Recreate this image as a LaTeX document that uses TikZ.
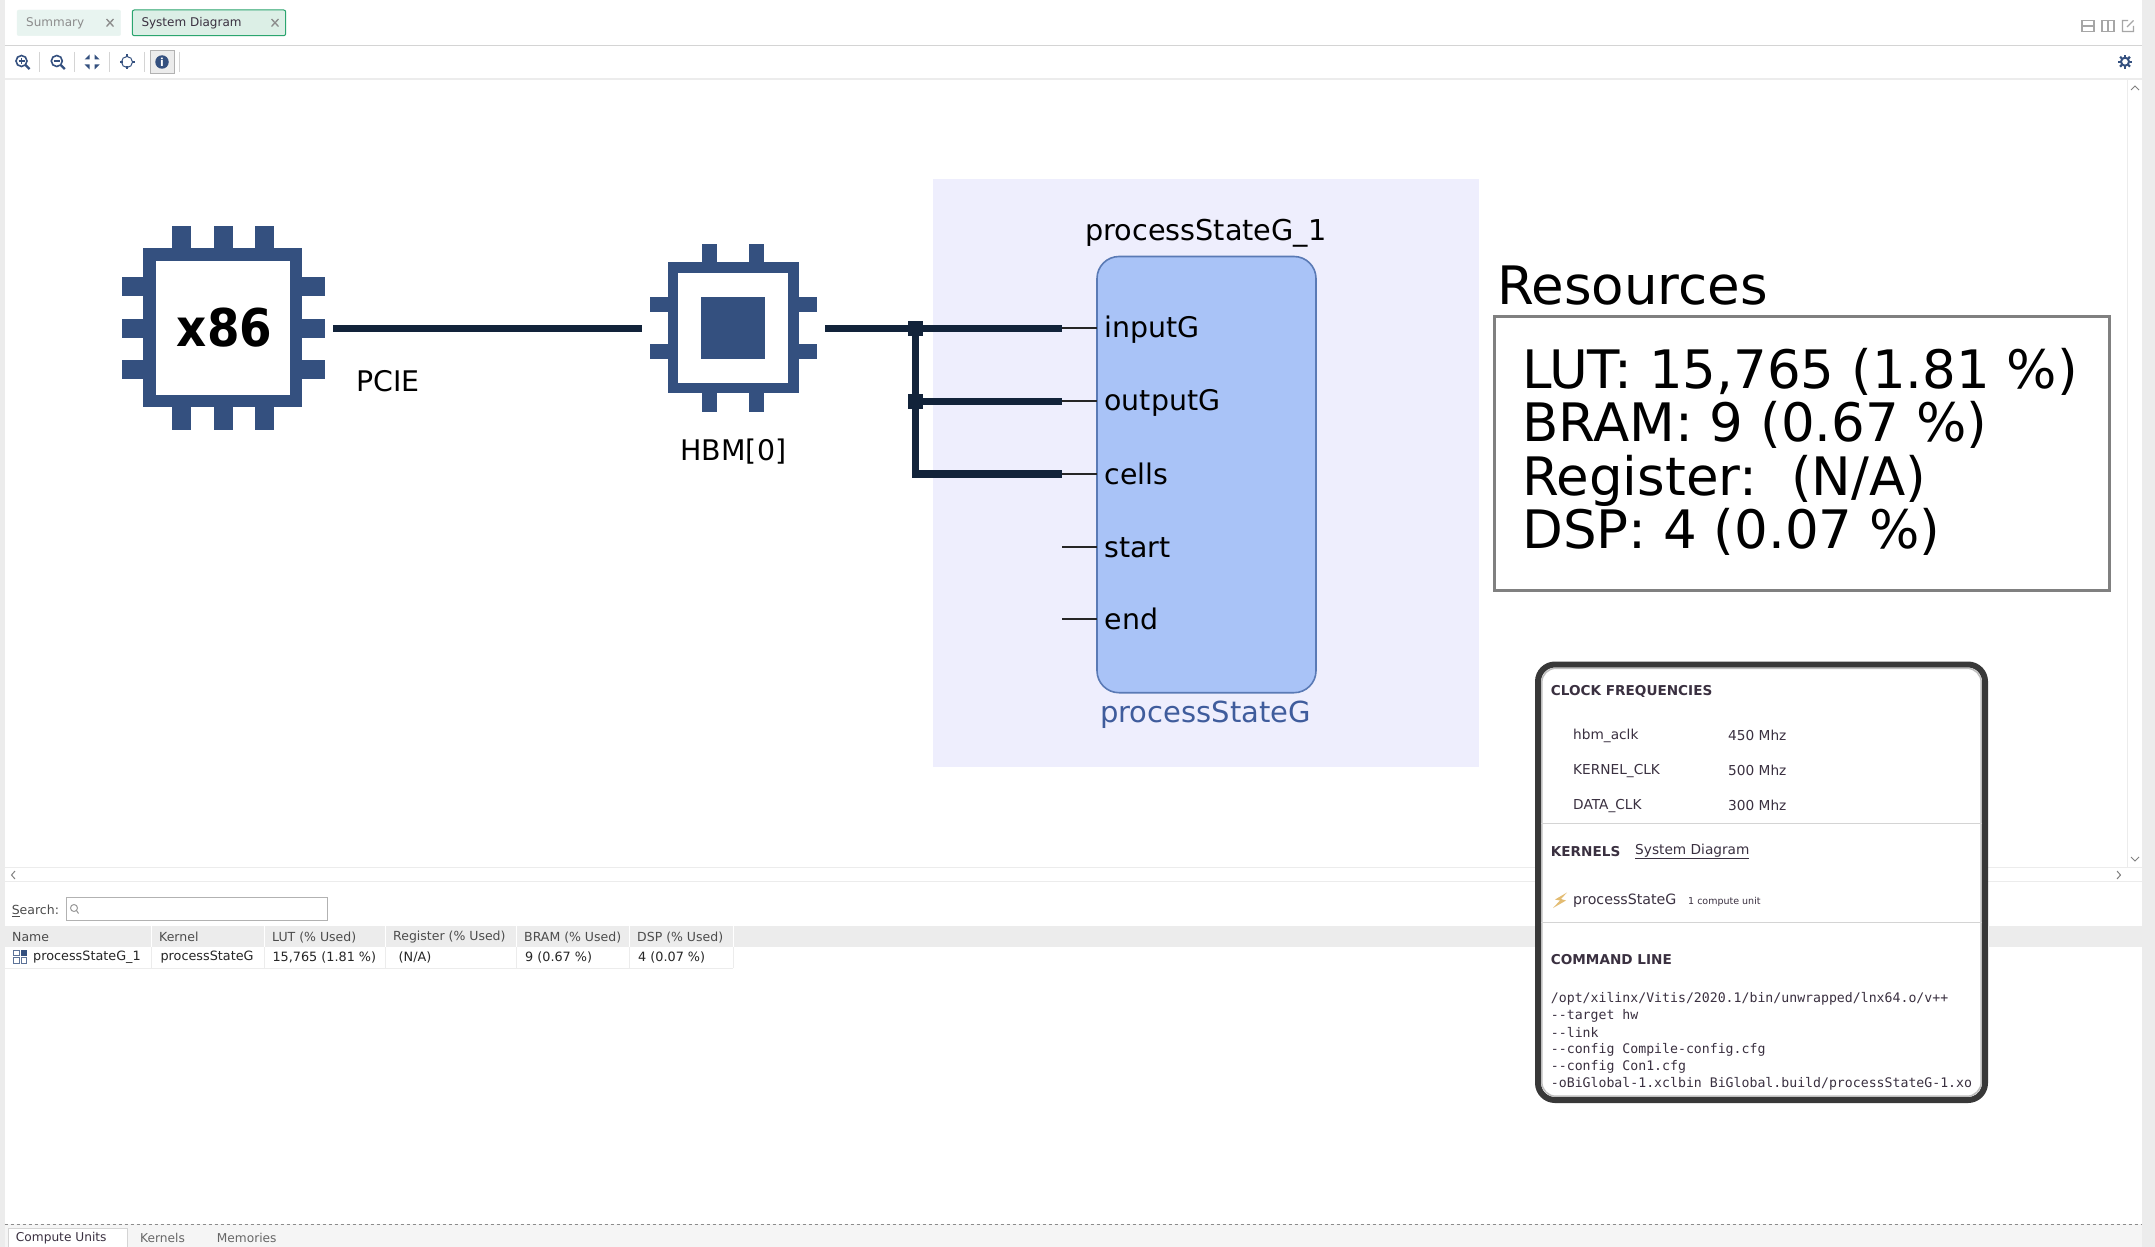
\documentclass[tikz,border=0pt]{standalone}
\usepackage{fontspec}
\setmainfont{DejaVu Sans}
\setmonofont{DejaVu Sans Mono}
\newfontfamily\condfont{DejaVu Sans Condensed}
\usetikzlibrary{positioning,calc}
\definecolor{chipblue}{HTML}{34507F}
\definecolor{wirenavy}{HTML}{12233A}
\definecolor{kernelfill}{HTML}{A9C3F7}
\definecolor{kerneledge}{HTML}{5A7AB5}
\definecolor{kernelname}{HTML}{3F5C9C}
\definecolor{lilac}{HTML}{EEEEFD}
\definecolor{uiline}{HTML}{D4D4D4}
\definecolor{uiband}{HTML}{ECECEC}
\definecolor{uitext}{HTML}{3A3040}
\definecolor{tabgreen}{HTML}{DCEFE6}
\definecolor{tabpale}{HTML}{E8F4F0}
\definecolor{tabedge}{HTML}{2BA56F}
\definecolor{boltgold}{HTML}{E3BC72}
\newcommand{\fsz}[1]{\fontsize{#1}{#1}\selectfont}
\begin{document}
\begin{tikzpicture}[x=1pt,y=-1pt,
  txt/.style={inner sep=0pt,anchor=west,execute at begin node={\rule[-.1em]{0pt}{.94em}}},
  big/.style={txt,font=\fsz{28.4}},
  port/.style={big,inner xsep=7.6pt,outer sep=0pt},
  head/.style={txt,font=\fsz{13.6}\bfseries,text=uitext},
  row/.style={txt,font=\fsz{13.7},text=uitext},
  cell/.style={txt,font=\fsz{12.8},text=black!85},
  colhead/.style={txt,font=\fsz{12.5},text=black!70},
  mono/.style={txt,font=\ttfamily\fsz{13.2},text=uitext},
  wire/.style={wirenavy,line width=7.2pt},
  stub/.style={black!85,line width=2pt},
  junction/.style={fill=wirenavy,minimum size=15pt,inner sep=0pt,outer sep=0pt},
  chip/.style={inner sep=0pt,outer sep=8pt},
  pin/.style={fill=chipblue},
  icon/.style={chipblue,line width=1.6pt}]
\useasboundingbox (0,0) rectangle (2155,1247);
\fill[white] (0,0) rectangle (2155,1247);

% window strips and tool bars
\fill[uiband] (0,0) rectangle (4.5,1247);
\fill[uiband] (2142,0) rectangle (2155,1247);
\draw[uiline,line width=1.5pt] (4.5,45.3) -- (2142,45.3);
\draw[uiband,line width=2.5pt] (4.5,79) -- (2142,79);
\draw[uiband,line width=1pt] (2127,80) -- (2127,867);
\draw[uiband,line width=1pt] (4.5,867.3) -- (2142,867.3);
\draw[uiband,line width=1pt] (4.5,881.7) -- (2142,881.7);

% tabs
\draw[tabpale,fill=tabpale,rounded corners=2pt] (17,10) rectangle (120.7,35.7);
\draw[tabedge,fill=tabgreen,rounded corners=2pt,line width=1pt] (132.3,10) rectangle (285.7,35.7);
\node[txt,font=\fsz{12},text=black!45] (tabsum) at (26,22.7) {Summary};
\node[txt,font=\fsz{12},text=uitext] (tabsys) at (141.3,22.7) {System Diagram};
\foreach \tabx in {110,275}
  \draw[black!45,line width=1.3pt] (\tabx-3.5,19) -- (\tabx+3.5,26.5) (\tabx-3.5,26.5) -- (\tabx+3.5,19);

% tool icons
\fill[uiband,draw=black!30] (150,50.5) rectangle (174,73.5);
\foreach \sepx in {39.3,74.3,109.3,144.3,179.3}
  \draw[uiline] (\sepx,52) -- (\sepx,72);
\foreach \zoomx in {21.5,56.8} {
  \draw[icon] (\zoomx,61) circle (5.5pt);
  \draw[icon,line width=2.2pt] (\zoomx+4,65) -- (\zoomx+8,69);
  \draw[icon,line width=1.2pt] (\zoomx-3,61) -- (\zoomx+3,61);
}
\draw[icon,line width=1.2pt] (21.5,58) -- (21.5,64);
\foreach \sx/\sy in {1/1,1/-1,-1/1,-1/-1}
  \fill[chipblue] (92+\sx*2.5,62+\sy*2.5) -- (92+\sx*7.5,62+\sy*2.5) -- (92+\sx*2.5,62+\sy*7.5) -- cycle;
\draw[icon,line width=1pt] (127,62) circle (5.5pt);
\foreach \sx/\sy in {1/0,-1/0,0/1,0/-1}
  \draw[icon,line width=1.4pt] (127+\sx*4.5,62+\sy*4.5) -- (127+\sx*7.5,62+\sy*7.5);
\node[circle,fill=chipblue,minimum size=13.5pt,inner sep=0pt,text=white,font=\fsz{11}\bfseries] (infobtn) at (162,62) {i};
\draw[black!35,line width=1.2pt] (2082,20.5) rectangle (2094,31.5) (2082,26) -- (2094,26);
\draw[black!35,line width=1.2pt] (2102,20.5) rectangle (2114,31.5) (2108,20.5) -- (2108,31.5);
\draw[black!35,line width=1.2pt] (2128,20.5) -- (2122.5,20.5) -- (2122.5,31.5) -- (2133.5,31.5) -- (2133.5,26) (2127,27) -- (2133.5,20.5);
\draw[chipblue,line width=2pt] (2125,61.7) circle (4pt);
\foreach \gearang in {0,45,...,315}
  \draw[chipblue,line width=2.2pt] (2125,61.7) ++(\gearang:4.5) -- ++(\gearang:2.5);
\draw[black!50,line width=1pt] (2131,90) -- (2135,86) -- (2139,90);
\draw[black!50,line width=1pt] (2131,857) -- (2135,861) -- (2139,857);
\draw[black!50,line width=1pt] (15,871) -- (11.5,875) -- (15,879);
\draw[black!50,line width=1pt] (2117,871) -- (2120.5,875) -- (2117,879);

% system diagram
\fill[lilac] (933,178.6) rectangle (1478.5,766.7);

\node[chip,minimum width=203.5pt,minimum height=204pt] (cpu) at (223.3,328.3) {};
\foreach \pinx in {172,214,255} {
  \fill[pin] (\pinx,226) rectangle +(19,22.5);
  \fill[pin] (\pinx,407) rectangle +(19,23);
}
\foreach \piny in {277,319,360} {
  \fill[pin] (121.5,\piny) rectangle +(21.5,19);
  \fill[pin] (302,\piny) rectangle +(23,19);
}
\fill[pin] (143,248.3) rectangle (302,407.3);
\fill[white] (156,261) rectangle (290,394.7);
\node[font=\condfont\fsz{52}\bfseries,inner sep=0pt] (cpulabel) at (224.6,328) {x86};

\node[chip,minimum width=167pt,minimum height=167pt] (hbm) at (733.5,328.3) {};
\foreach \pinx in {702,749} {
  \fill[pin] (\pinx,244.3) rectangle +(15,18);
  \fill[pin] (\pinx,393) rectangle +(15,18.7);
}
\foreach \piny in {296.7,343.7} {
  \fill[pin] (650,\piny) rectangle +(17.5,15.6);
  \fill[pin] (798.5,\piny) rectangle +(18.5,15.6);
}
\fill[pin] (667.5,262.3) rectangle (798.5,393.3);
\fill[white] (678,272.7) rectangle (788,383);
\fill[pin] (701.4,296.7) rectangle (764.6,359.3);

\node[big] (pcie) at (356,381) {PCIE};
\node[big,anchor=center] (hbmname) at (733.4,450) {HBM[0]};

\draw[fill=kernelfill,draw=kerneledge,line width=1.6pt,rounded corners=22pt] (1097,256.5) rectangle (1316,692.7);
\node[txt,anchor=center,font=\fsz{28.7}] (kinst) at (1205.8,232) {processStateG\_1};
\node[txt,anchor=center,font=\fsz{29},text=kernelname] (kname) at (1205.5,713) {processStateG};

\foreach \portname/\porty in {inputG/328.3,outputG/401.3,cells/474,start/546.5,end/619.3} {
  \node[port] (\portname) at (1097,\porty) {\portname};
  \coordinate (stub\portname) at (1062,\porty);
  \draw[stub] (stub\portname) -- (\portname.west);
}
\node[junction] (jctA) at (915.5,328.3) {};
\node[junction] (jctB) at (915.5,401.3) {};
\draw[wire] (cpu.east) -- (hbm.west);
\draw[wire] (hbm.east) -- (stubinputG);
\draw[wire] (jctA) -- (jctB);
\draw[wire] (jctB) -- (stuboutputG);
\draw[wire] (jctB) |- (stubcells);

% resources
\node[txt,font=\fsz{53}] (reshead) at (1497,285) {Resources};
\node[draw=black!50,line width=3.5pt,minimum width=615pt,minimum height=274pt,inner sep=0pt] (resbox) at (1802,453.5) {};
\node[anchor=west,inner sep=0pt,align=left,font=\fontsize{53}{53.4}\selectfont] (reslines) at (1522,452)
  {LUT: 15,765 (1.81 \%)\\BRAM: 9 (0.67 \%)\\Register:\ \ (N/A)\\DSP: 4 (0.07 \%)};

% info panel
\draw[fill=white,draw=black!78,line width=6pt,rounded corners=17pt] (1538,664.5) rectangle (1985,1100);
\draw[black!25,line width=1.5pt,rounded corners=14pt] (1541.8,668.3) rectangle (1981.2,1096.2);
\draw[uiline,line width=1pt] (1541,823) -- (1982,823);
\draw[uiline,line width=1pt] (1541,922.3) -- (1982,922.3);
\node[head] (clkhead) at (1550.7,691) {CLOCK FREQUENCIES};
\foreach \clkname/\clkval/\clky in {hbm\_aclk/450 Mhz/735,KERNEL\_CLK/500 Mhz/770,DATA\_CLK/300 Mhz/805} {
  \node[row] at (1573,\clky) {\clkname};
  \node[row] at (1728,\clky) {\clkval};
}
\node[head] (kernhead) at (1550.7,851) {KERNELS};
\node[row] (syslink) at (1635,851) {\underline{System Diagram}};
\fill[boltgold] (1567,892.5) -- (1555,899.5) -- (1560,900.5) -- (1553,908) -- (1566,900.5) -- (1561,899) -- cycle;
\node[row,font=\fsz{14.2}] (kernrow) at (1573,900) {processStateG};
\node[txt,font=\fsz{9.5},text=uitext] (kerncount) at (1688,901) {1 compute unit};
\node[head] (cmdhead) at (1550.7,959) {COMMAND LINE};
\node[mono] (cmdA) at (1550.7,998.3) {/opt/xilinx/Vitis/2020.1/bin/unwrapped/lnx64.o/v++};
\node[mono] (cmdB) at (1550.7,1015.3) {-{}-target hw};
\node[mono] (cmdC) at (1550.7,1032.3) {-{}-link};
\node[mono] (cmdD) at (1550.7,1049.3) {-{}-config Compile-config.cfg};
\node[mono] (cmdE) at (1550.7,1066.3) {-{}-config Con1.cfg};
\node[mono] (cmdF) at (1550.7,1083.3) {-oBiGlobal-1.xclbin BiGlobal.build/processStateG-1.xo};

% table
\node[colhead] (searchlbl) at (11.6,910) {\underline{S}earch:};
\draw[black!30,line width=1pt] (66.4,897.3) rectangle (327.7,920.7);
\draw[black!40,line width=1pt] (74,908) circle (3.5pt) (76.5,910.5) -- (78.5,913.5);
\fill[uiband] (4.5,926) rectangle (1535,947.3);
\fill[uiband] (1988,926) rectangle (2142,947.3);
\foreach \colx in {151.7,264.7,385.4,516.7,629.7,733.4}
  \draw[white,line width=1pt] (\colx,926) -- (\colx,947.3);
\foreach \colx in {151.7,264.7,385.4,516.7,629.7,733.4}
  \draw[uiband,line width=1pt] (\colx,947.3) -- (\colx,968.3);
\draw[uiband,line width=1pt] (4.5,968.3) -- (733.4,968.3);
\foreach \colname/\colx in {Name/12,Kernel/159,LUT (\% Used)/272,Register (\% Used)/393,BRAM (\% Used)/524,DSP (\% Used)/637}
  \node[colhead] at (\colx,936.7) {\colname};
\foreach \celltext/\colx in {processStateG\_1/33,processStateG/160.4,{15,765 (1.81 \%)}/272.4,{(N/A)}/398.5,9 (0.67 \%)/525,4 (0.07 \%)/638}
  \node[cell] at (\colx,956.7) {\celltext};
\foreach \boxx/\boxy in {13.5/950,21/957.5,13.5/957.5}
  \draw[chipblue!80,line width=.7pt] (\boxx,\boxy) rectangle +(5.5,5.5);
\fill[chipblue] (21,950) rectangle +(5.8,5.8);

% bottom tabs
\fill[black!4] (4.5,1224.3) rectangle (2142,1247);
\draw[black!45,dashed,line width=.7pt] (4.5,1224.3) -- (2142,1224.3);
\draw[fill=white,draw=uiline,line width=1pt] (8.3,1247.5) -- (8.3,1228.3) -- (127.7,1228.3) -- (127.7,1247.5);
\node[txt,font=\fsz{12.2},text=uitext] (tabcu) at (15.7,1237.7) {Compute Units};
\node[txt,font=\fsz{12.2},text=black!60] (tabkern) at (140,1237.7) {Kernels};
\node[txt,font=\fsz{12.2},text=black!60] (tabmem) at (216.7,1237.7) {Memories};
\end{tikzpicture}
\end{document}
